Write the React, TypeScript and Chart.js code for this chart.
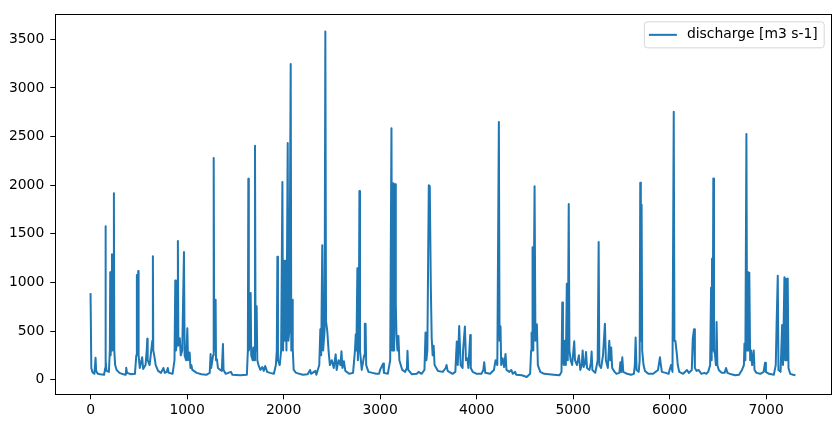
import React, { useEffect, useRef } from "react";
import { Chart, registerables } from "chart.js";

Chart.register(...registerables);

// Day index (x) of each read-off point
const days = [
  0, 8, 20, 40, 52, 58, 75, 100, 140, 152,
  155, 158, 165, 190, 200, 204, 208, 215, 222, 226,
  236, 242, 246, 255, 270, 300, 340, 365, 370, 378,
  420, 460, 474, 480, 484, 490, 494, 498, 510, 535,
  545, 570, 582, 588, 592, 600, 612, 640, 646, 650,
  660, 675, 700, 730, 755, 770, 790, 800, 810, 850,
  870, 878, 885, 897, 905, 910, 925, 935, 950, 968,
  975, 990, 1003, 1010, 1027, 1035, 1045, 1055, 1100, 1150,
  1200, 1235, 1244, 1250, 1270, 1276, 1282, 1296, 1300, 1310,
  1320, 1345, 1360, 1372, 1378, 1400, 1455, 1470, 1550, 1620,
  1630, 1635, 1640, 1650, 1659, 1665, 1680, 1687, 1695, 1704,
  1710, 1721, 1728, 1740, 1760, 1780, 1795, 1810, 1830, 1860,
  1900, 1920, 1930, 1936, 1942, 1960, 1975, 1988, 1995, 2008,
  2015, 2022, 2030, 2043, 2050, 2060, 2074, 2080, 2088, 2095,
  2105, 2130, 2200, 2250, 2275, 2285, 2330, 2340, 2370, 2381,
  2390, 2401, 2410, 2425, 2433, 2440, 2453, 2467, 2480, 2500,
  2520, 2540, 2550, 2570, 2590, 2600, 2610, 2625, 2640, 2680,
  2720, 2740, 2748, 2755, 2765, 2770, 2780, 2786, 2792, 2810,
  2835, 2842, 2850, 2856, 2880, 2920, 2960, 2990, 3000, 3031,
  3040, 3080, 3105, 3118, 3125, 3132, 3139, 3146, 3156, 3163,
  3170, 3180, 3190, 3200, 3230, 3260, 3278, 3284, 3292, 3330,
  3380, 3400, 3430, 3460, 3471, 3480, 3490, 3505, 3515, 3526,
  3535, 3545, 3555, 3565, 3600, 3650, 3680, 3689, 3700, 3750,
  3780, 3795, 3805, 3820, 3827, 3835, 3855, 3860, 3879, 3890,
  3905, 3915, 3934, 3940, 3960, 4000, 4050, 4070, 4079, 4090,
  4140, 4180, 4197, 4215, 4231, 4238, 4248, 4255, 4270, 4285,
  4300, 4310, 4340, 4360, 4375, 4400, 4410, 4470, 4520, 4555,
  4565, 4570, 4575, 4580, 4588, 4601, 4610, 4625, 4635, 4660,
  4700, 4800, 4860, 4880, 4888, 4895, 4905, 4915, 4925, 4935,
  4945, 4955, 4962, 4975, 4990, 5012, 5020, 5040, 5060, 5075,
  5090, 5099, 5110, 5125, 5134, 5145, 5170, 5185, 5192, 5200,
  5230, 5255, 5265, 5272, 5290, 5310, 5330, 5340, 5360, 5375,
  5385, 5395, 5405, 5430, 5450, 5480, 5490, 5500, 5510, 5520,
  5560, 5600, 5630, 5640, 5648, 5658, 5680, 5690, 5696, 5702,
  5710, 5716, 5730, 5745, 5780, 5830, 5880, 5900, 5910, 5920,
  5960, 5990, 6000, 6015, 6030, 6043, 6050, 6060, 6075, 6085,
  6100, 6140, 6180, 6200, 6230, 6240, 6253, 6262, 6280, 6300,
  6330, 6360, 6380, 6400, 6420, 6430, 6436, 6440, 6447, 6453,
  6460, 6470, 6480, 6487, 6495, 6510, 6540, 6570, 6585, 6600,
  6640, 6680, 6720, 6750, 6770, 6776, 6785, 6796, 6803, 6810,
  6818, 6826, 6835, 6845, 6855, 6872, 6880, 6900, 6940, 6975,
  6989, 6998, 7030, 7080, 7100, 7110, 7121, 7128, 7150, 7166,
  7175, 7190, 7197, 7205, 7212, 7224, 7232, 7250, 7280, 7304,
];

// Discharge [m3 s-1] at each of the days above
const discharge = [
  890, 120, 75, 60, 226, 90, 60, 55, 50, 120,
  1578, 200, 90, 80, 300, 1104, 250, 400, 1291, 300,
  500, 1917, 300, 150, 100, 70, 55, 50, 122, 70,
  55, 60, 250, 1077, 300, 400, 1118, 250, 120, 230,
  110, 150, 300, 420, 200, 180, 150, 400, 1270, 300,
  250, 150, 90, 70, 120, 70, 80, 120, 70, 60,
  200, 1020, 300, 400, 1426, 350, 426, 250, 300, 1314,
  250, 200, 528, 200, 280, 120, 150, 100, 70, 55,
  50, 70, 264, 120, 250, 2280, 300, 823, 200, 210,
  120, 100, 90, 366, 100, 60, 80, 50, 45, 50,
  300, 2067, 300, 350, 891, 250, 200, 330, 200, 2405,
  300, 755, 200, 150, 100, 130, 90, 140, 80, 70,
  60, 150, 300, 1264, 200, 150, 300, 2033, 300, 1223,
  400, 1223, 300, 2433, 400, 500, 3246, 300, 823, 320,
  100, 70, 50, 55, 100, 60, 90, 50, 150, 518,
  250, 1382, 300, 500, 3581, 600, 500, 290, 150, 200,
  120, 260, 100, 200, 150, 291, 120, 190, 90, 60,
  70, 300, 467, 300, 1145, 200, 500, 1941, 300, 100,
  250, 576, 576, 150, 80, 70, 60, 60, 100, 165,
  70, 60, 200, 2585, 300, 600, 2019, 300, 2010, 780,
  460, 300, 450, 200, 100, 80, 120, 298, 100, 55,
  60, 80, 60, 100, 484, 200, 300, 2000, 1990, 947,
  430, 250, 350, 150, 90, 80, 120, 150, 90, 60,
  80, 393, 150, 552, 552, 150, 120, 300, 547, 200,
  220, 120, 460, 120, 80, 60, 60, 100, 180, 70,
  60, 100, 200, 150, 2650, 400, 550, 150, 220, 130,
  265, 100, 80, 100, 60, 80, 50, 45, 28, 60,
  300, 484, 300, 1362, 300, 1989, 400, 570, 150, 80,
  60, 50, 45, 80, 793, 200, 150, 400, 150, 986,
  200, 1806, 300, 200, 150, 395, 200, 150, 250, 100,
  150, 300, 130, 170, 285, 120, 100, 180, 290, 100,
  70, 200, 1416, 150, 120, 250, 576, 200, 120, 400,
  200, 330, 120, 80, 60, 70, 180, 80, 230, 80,
  60, 50, 60, 150, 433, 100, 80, 200, 2026, 400,
  1800, 300, 150, 90, 60, 60, 100, 230, 150, 80,
  70, 60, 100, 150, 80, 2755, 400, 400, 265, 150,
  80, 60, 100, 70, 100, 420, 518, 120, 90, 100,
  60, 70, 60, 80, 150, 948, 200, 1247, 300, 2070,
  300, 265, 150, 593, 150, 100, 70, 70, 120, 70,
  55, 45, 50, 100, 150, 372, 200, 2527, 300, 1111,
  300, 1100, 200, 300, 150, 300, 100, 70, 60, 80,
  175, 80, 60, 50, 150, 620, 1070, 100, 80, 562,
  150, 1053, 200, 1038, 200, 1040, 120, 60, 50, 45,
];

const xTicks = [0, 1000, 2000, 3000, 4000, 5000, 6000, 7000];
const yTicks = [0, 500, 1000, 1500, 2000, 2500, 3000, 3500];
const seriesLabel = "discharge [m3 s-1]";
const lineColor = "#1f77b4";
const fontFamily = "'DejaVu Sans', sans-serif";
const fontSize = 13.9;

const framePlugin = {
  id: "mplFrame",
  afterDraw(chart: any) {
    const { ctx, chartArea } = chart;
    const { left, top, right, bottom } = chartArea;
    ctx.save();
    ctx.strokeStyle = "#000";
    ctx.lineWidth = 1;
    ctx.strokeRect(
      Math.round(left) + 0.5,
      Math.round(top) + 0.5,
      Math.round(right) - Math.round(left),
      Math.round(bottom) - Math.round(top)
    );

    // legend (matplotlib style, upper right inside axes)
    ctx.font = `${fontSize}px ${fontFamily}`;
    const tw = ctx.measureText(seriesLabel).width;
    const w = tw + 49;
    const h = 26;
    const bx = right - 7 - w;
    const by = top + 7;
    ctx.beginPath();
    if ((ctx as any).roundRect) {
      (ctx as any).roundRect(bx + 0.5, by + 0.5, w, h, 3);
    } else {
      ctx.rect(bx + 0.5, by + 0.5, w, h);
    }
    ctx.fillStyle = "rgba(255,255,255,0.8)";
    ctx.fill();
    ctx.strokeStyle = "#d6d6d6";
    ctx.lineWidth = 1;
    ctx.stroke();

    const cy = by + h / 2 + 0.5;
    ctx.beginPath();
    ctx.moveTo(bx + 5, cy);
    ctx.lineTo(bx + 33, cy);
    ctx.strokeStyle = lineColor;
    ctx.lineWidth = 2;
    ctx.stroke();

    ctx.fillStyle = "#000";
    ctx.textAlign = "left";
    ctx.textBaseline = "middle";
    ctx.fillText(seriesLabel, bx + 43, cy);
    ctx.restore();
  },
};

export default function App() {
  const canvasRef = useRef<HTMLCanvasElement | null>(null);

  useEffect(() => {
    const canvas = canvasRef.current;
    if (!canvas) return;
    const points = days.map((d, i) => ({ x: d, y: discharge[i] }));
    const chart = new Chart(canvas, {
      type: "line",
      data: {
        datasets: [
          {
            label: seriesLabel,
            data: points,
            borderColor: lineColor,
            backgroundColor: lineColor,
            borderWidth: 2,
            pointRadius: 0,
            pointHoverRadius: 0,
            tension: 0,
            fill: false,
            borderJoinStyle: "round",
          } as any,
        ],
      },
      options: {
        responsive: false,
        animation: false,
        devicePixelRatio: 1,
        events: [],
        layout: { padding: { top: 9.7, right: 9.3, left: 0, bottom: 0 } },
        plugins: {
          legend: { display: false },
          tooltip: { enabled: false },
        },
        scales: {
          x: {
            type: "linear",
            min: -365.2,
            max: 7669.4,
            afterFit: (scale: any) => {
              scale.height = 33.7;
            },
            afterBuildTicks: (scale: any) => {
              scale.ticks = xTicks.map((v) => ({ value: v }));
            },
            grid: {
              display: true,
              drawOnChartArea: false,
              drawTicks: true,
              tickLength: 5,
              color: "#000",
              lineWidth: 1,
            },
            border: { display: false },
            ticks: {
              color: "#000",
              padding: 3,
              maxRotation: 0,
              autoSkip: false,
              font: { family: fontFamily, size: fontSize },
              callback: (v: any) => String(v),
            },
          },
          y: {
            type: "linear",
            min: -150.6,
            max: 3757.6,
            afterFit: (scale: any) => {
              scale.width = 55.3;
            },
            afterBuildTicks: (scale: any) => {
              scale.ticks = yTicks.map((v) => ({ value: v }));
            },
            grid: {
              display: true,
              drawOnChartArea: false,
              drawTicks: true,
              tickLength: 5,
              color: "#000",
              lineWidth: 1,
            },
            border: { display: false },
            ticks: {
              color: "#000",
              padding: 6,
              autoSkip: false,
              font: { family: fontFamily, size: fontSize },
              callback: (v: any) => String(v),
            },
          },
        },
      },
      plugins: [framePlugin],
    });
    return () => chart.destroy();
  }, []);

  return (
    <div
      style={{
        position: "fixed",
        left: 0,
        top: 0,
        width: 840,
        height: 428,
        background: "#fff",
      }}
    >
      <canvas
        ref={canvasRef}
        width={840}
        height={428}
        style={{ width: 840, height: 428, display: "block" }}
      />
    </div>
  );
}
